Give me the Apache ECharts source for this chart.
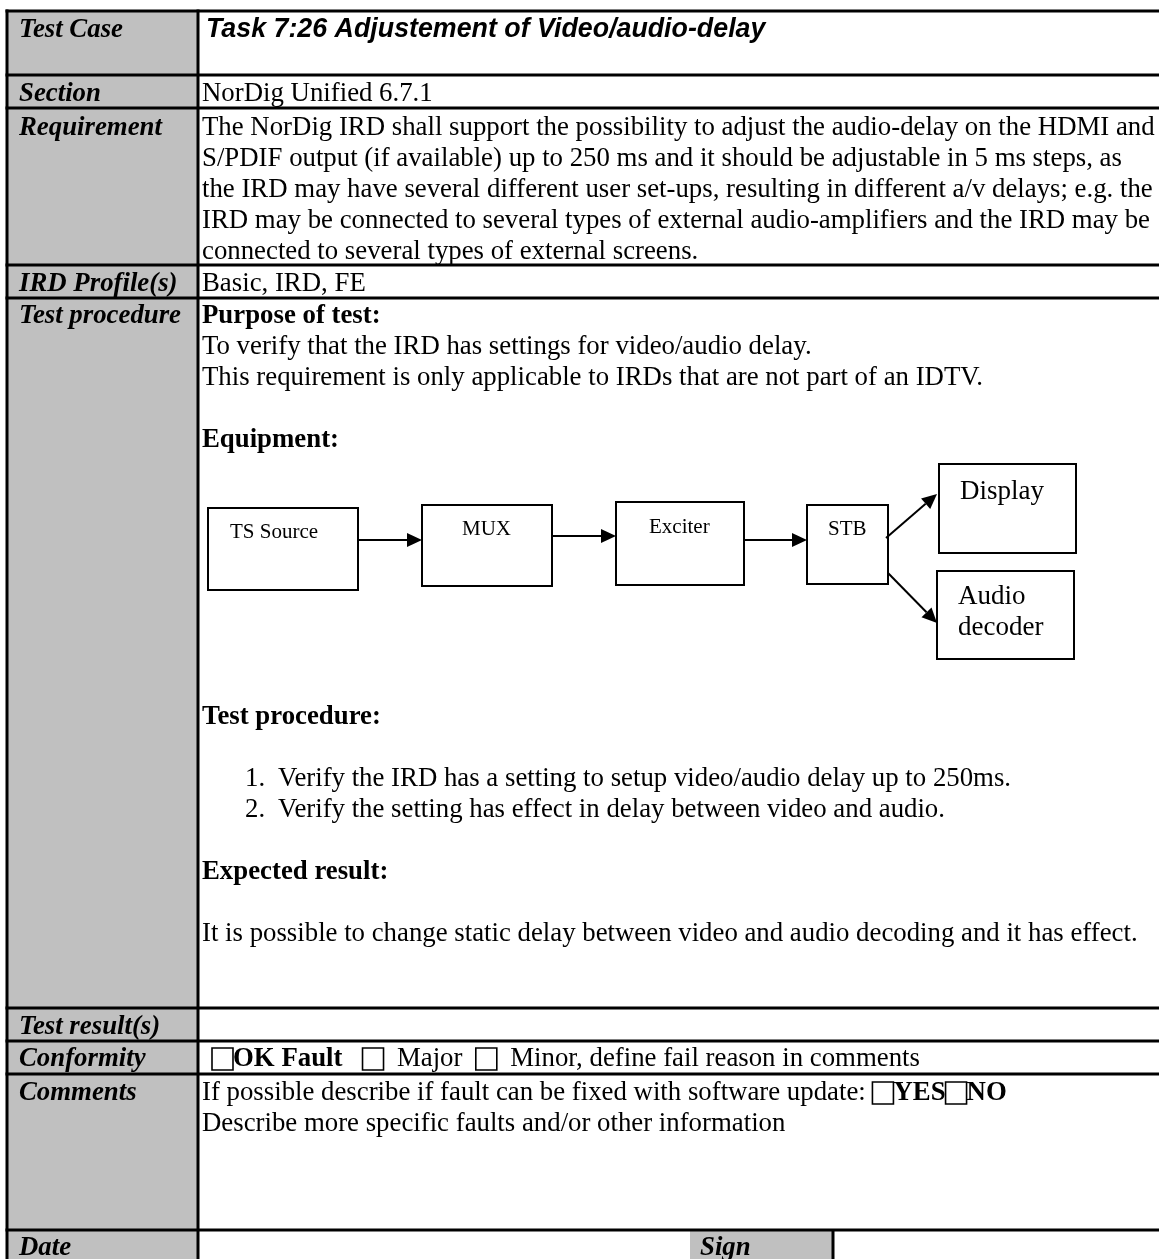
<!DOCTYPE html>
<html>
<head>
<meta charset="utf-8">
<script src="https://cdn.jsdelivr.net/npm/echarts@6/dist/echarts.min.js"></script>
<style>
html,body{margin:0;padding:0;background:#fff;}
#main{width:1159px;height:1259px;}
</style>
</head>
<body>
<div id="main"></div>
<script>
// ---- content ----
const rowLabels = ['Test Case', 'Section', 'Requirement', 'IRD Profile(s)', 'Test procedure', 'Test result(s)', 'Conformity', 'Comments', 'Date'];
const titleText = 'Task 7:26 Adjustement of Video/audio-delay';
const sectionText = 'NorDig Unified 6.7.1';
const requirementLines = [
  'The NorDig IRD shall support the possibility to adjust the audio-delay on the HDMI and',
  'S/PDIF output (if available) up to 250 ms and it should be adjustable in 5 ms steps, as',
  'the IRD may have several different user set-ups, resulting in different a/v delays; e.g. the',
  'IRD may be connected to several types of external audio-amplifiers and the IRD may be',
  'connected to several types of external screens.'
];
const profileText = 'Basic, IRD, FE';
const purposeHeading = 'Purpose of test:';
const purposeLines = [
  'To verify that the IRD has settings for video/audio delay.',
  'This requirement is only applicable to IRDs that are not part of an IDTV.'
];
const equipmentHeading = 'Equipment:';
const diagramNodes = ['TS Source', 'MUX', 'Exciter', 'STB', 'Display', 'Audio\ndecoder'];
const procedureHeading = 'Test procedure:';
const procedureSteps = [
  'Verify the IRD has a setting to setup video/audio delay up to 250ms.',
  'Verify the setting has effect in delay between video and audio.'
];
const expectedHeading = 'Expected result:';
const expectedText = 'It is possible to change static delay between video and audio decoding and it has effect.';
const conformityParts = ['OK Fault', 'Major', 'Minor, define fail reason in comments'];
const commentLines = ['If possible describe if fault can be fixed with software update: ', 'Describe more specific faults and/or other information'];
const commentOptions = ['YES', 'NO'];
const signLabel = 'Sign';

// ---- layout ----
const SERIF = '"Liberation Serif", "Times New Roman", serif';
const SANS = '"Liberation Sans", Arial, sans-serif';
const FS = 26.8;
const LH = 31;
const DY = 2;
const L = 7, C = 198, R = 1170, TOP = 11, BOT = 1265;
const hLines = [TOP, 75, 108, 265, 298, 1008, 1041, 1074, 1230];
const labelY = [28, 92, 126, 282, 314, 1025, 1057, 1091, 1246];
const TX = 202;
const G = [];

function txt(x, y, text, o) {
  o = o || {};
  G.push({
    type: 'text', z: 10,
    style: Object.assign({
      x: x, y: y + DY, text: text, fill: '#000',
      fontFamily: SERIF, fontSize: FS, fontWeight: 'normal', fontStyle: 'normal',
      verticalAlign: 'middle', align: 'left'
    }, o)
  });
}
function line(x1, y1, x2, y2, w) {
  G.push({type: 'line', z: 5, shape: {x1: x1, y1: y1, x2: x2, y2: y2}, style: {stroke: '#000', lineWidth: w || 3}});
}
function rect(x, y, w, h, fill, stroke, lw, z) {
  G.push({type: 'rect', z: z || 1, shape: {x: x, y: y, width: w, height: h},
    style: {fill: fill || 'none', stroke: stroke || null, lineWidth: lw || 0}});
}
function arrow(x1, y1, x2, y2) {
  const dx = x2 - x1, dy = y2 - y1, len = Math.sqrt(dx * dx + dy * dy);
  const ux = dx / len, uy = dy / len, hl = 15, hw = 7;
  const bx = x2 - ux * hl, by = y2 - uy * hl;
  line(x1, y1, bx, by, 2);
  G.push({type: 'polygon', z: 6, shape: {points: [[x2, y2], [bx - uy * hw, by + ux * hw], [bx + uy * hw, by - ux * hw]]},
    style: {fill: '#000'}});
}

// gray label column
rect(L, TOP, C - L, BOT - TOP, '#C0C0C0');
// Sign cell
rect(690, 1230, 833 - 690, BOT - 1230, '#C0C0C0');

// grid lines
hLines.forEach(function (y) { line(L - 1.5, y, R, y, 3); });
line(L, TOP - 1.5, L, BOT, 3);
line(C, TOP - 1.5, C, BOT, 3);
line(833, 1230, 833, BOT, 3);

// labels
rowLabels.forEach(function (t, i) {
  txt(19, labelY[i], t, {fontWeight: 'bold', fontStyle: 'italic'});
});
txt(700, 1246, signLabel, {fontWeight: 'bold', fontStyle: 'italic'});

// title
txt(206, 28, titleText, {fontFamily: SANS, fontWeight: 'bold', fontStyle: 'italic'});
txt(TX, 92, sectionText);
requirementLines.forEach(function (t, i) { txt(TX, 126 + i * LH, t); });
txt(TX, 282, profileText);

// test procedure block
txt(TX, 314, purposeHeading, {fontWeight: 'bold'});
purposeLines.forEach(function (t, i) { txt(TX, 345 + i * LH, t); });
txt(TX, 438, equipmentHeading, {fontWeight: 'bold'});

// diagram
const boxes = [
  [208, 508, 150, 82], [422, 505, 130, 81], [616, 502, 128, 83],
  [807, 505, 81, 79], [939, 464, 137, 89], [937, 571, 137, 88]
];
boxes.forEach(function (b) { rect(b[0], b[1], b[2], b[3], '#fff', '#000', 2, 3); });
const nodeText = [[230, 530, 21], [462, 527, 21], [649, 525, 21], [828, 527, 21], [960, 490, 27], [958, 610, 27]];
diagramNodes.forEach(function (t, i) {
  const p = nodeText[i];
  txt(p[0], p[1], t, {fontSize: p[2], lineHeight: 31});
});
arrow(358, 540, 422, 540);
arrow(552, 536, 616, 536);
arrow(744, 540, 807, 540);
arrow(886, 538, 937, 494);
arrow(888, 573, 937, 623);

txt(TX, 715, procedureHeading, {fontWeight: 'bold'});
procedureSteps.forEach(function (t, i) {
  txt(245, 777 + i * LH, (i + 1) + '.');
  txt(278, 777 + i * LH, t);
});
txt(TX, 870, expectedHeading, {fontWeight: 'bold'});
txt(TX, 932, expectedText);

// conformity & comments with check boxes
const richStyles = {
  box: {width: 21, height: 22, borderColor: '#000', borderWidth: 1.6, fontSize: FS, fontFamily: SERIF, verticalAlign: 'middle'},
  b: {fontWeight: 'bold', fontSize: FS, fontFamily: SERIF, fill: '#000'},
  n: {fontSize: FS, fontFamily: SERIF, fill: '#000'}
};
txt(212, 1057,
  '{box| }{b|' + conformityParts[0] + '}{n|   }{box| }{n|  ' + conformityParts[1] + '  }{box| }{n|  ' + conformityParts[2] + '}',
  {rich: richStyles});
txt(TX, 1091,
  '{n|' + commentLines[0] + '}{box| }{b|' + commentOptions[0] + '}{box| }{b|' + commentOptions[1] + '}',
  {rich: richStyles});
txt(TX, 1122, commentLines[1]);

const chart = echarts.init(document.getElementById('main'), null, {renderer: 'canvas'});
chart.setOption({
  backgroundColor: '#fff',
  animation: false,
  graphic: {elements: G}
});
</script>
</body>
</html>
